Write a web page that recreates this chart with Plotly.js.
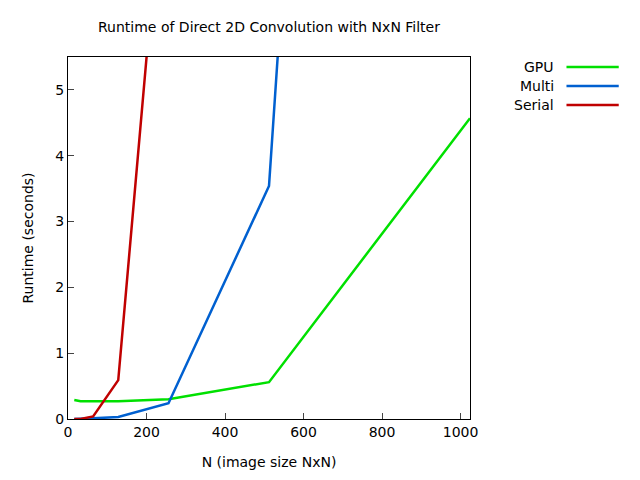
<!DOCTYPE html><html><head><script src="https://cdn.plot.ly/plotly-3.0.1.min.js"></script></head><body style="margin:0"><div id="c" style="width:640px;height:480px"></div><script>
const sizes=[16,32,64,128,256,512,1024];
const gpu=[0.29,0.27,0.27,0.27,0.30,0.56,4.57];
const multi=[0.0,0.0,0.01,0.03,0.24,3.54,49];
const serial=[0.0,0.0,0.04,0.59,9.3,75,600];
const names=['GPU','Multi','Serial'];
const colors=['#00e000','#0060d0','#c00000'];
const series=[gpu,multi,serial];
const f={family:'DejaVu Sans',size:14,color:'#000'};
const traces=series.map((s,i)=>({x:sizes,y:s,name:names[i],mode:'lines',line:{color:colors[i],width:2.5},showlegend:false}));
const ann=[{text:'Runtime of Direct 2D Convolution with NxN Filter',xref:'paper',yref:'paper',x:0.5,y:1,yanchor:'middle',yshift:30,showarrow:false,font:f}];
const shapes=[];
names.forEach((n,i)=>{const yp=1-(10+19*i)/362;
ann.push({text:n,xref:'paper',yref:'paper',x:1.215,y:yp,xanchor:'right',yanchor:'middle',showarrow:false,font:f});
shapes.push({type:'line',xref:'paper',yref:'paper',x0:1.24,x1:1.37,y0:yp,y1:yp,line:{color:colors[i],width:2.5}});});
Plotly.newPlot('c',traces,{width:640,height:480,margin:{l:68,r:170,t:57,b:61},font:f,
xaxis:{range:[0,1024],tickvals:[0,200,400,600,800,1000],showgrid:false,zeroline:false,showline:true,mirror:true,linecolor:'#000',ticks:'inside',ticklen:6,title:{text:'N (image size NxN)',font:f,standoff:18}},
yaxis:{range:[0,5.5],tickvals:[0,1,2,3,4,5],showgrid:false,zeroline:false,showline:true,mirror:true,linecolor:'#000',ticks:'inside',ticklen:6,title:{text:'Runtime (seconds)',font:f,standoff:18}},
annotations:ann,shapes:shapes,plot_bgcolor:'#fff',paper_bgcolor:'#fff'},{displayModeBar:false});
</script></body></html>
